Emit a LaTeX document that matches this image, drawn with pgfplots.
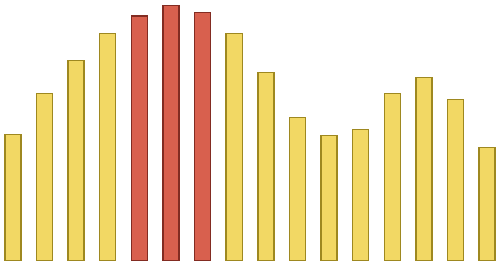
\documentclass[border=0pt]{standalone}
\usepackage{pgfplots}
\pgfplotsset{compat=1.18}
\definecolor{yfill}{RGB}{242,216,100}
\definecolor{yedge}{RGB}{158,136,32}
\definecolor{rfill}{RGB}{216,96,78}
\definecolor{redge}{RGB}{130,44,34}
\begin{document}
\begin{tikzpicture}
\begin{axis}[width=10cm,height=5.24cm,scale only axis,hide axis,
  xmin=-0.41,xmax=15.41,ymin=-1.3,ymax=260.7,
  ybar, bar width=0.32cm, bar shift=0pt]
\addplot[fill=yfill,draw=yedge,line width=0.8pt] coordinates {(0,126)(1,167)(2,200)(3,227)(7,227)(8,188)(9,143.5)(10,125)(11,131)(12,167)(13,183)(14,161)(15,113.5)};
\addplot[fill=rfill,draw=redge,line width=0.8pt] coordinates {(4,244.5)(5,255)(6,248)};
\path (rel axis cs:0,0) rectangle (rel axis cs:1,1);
\end{axis}
\end{tikzpicture}
\end{document}
